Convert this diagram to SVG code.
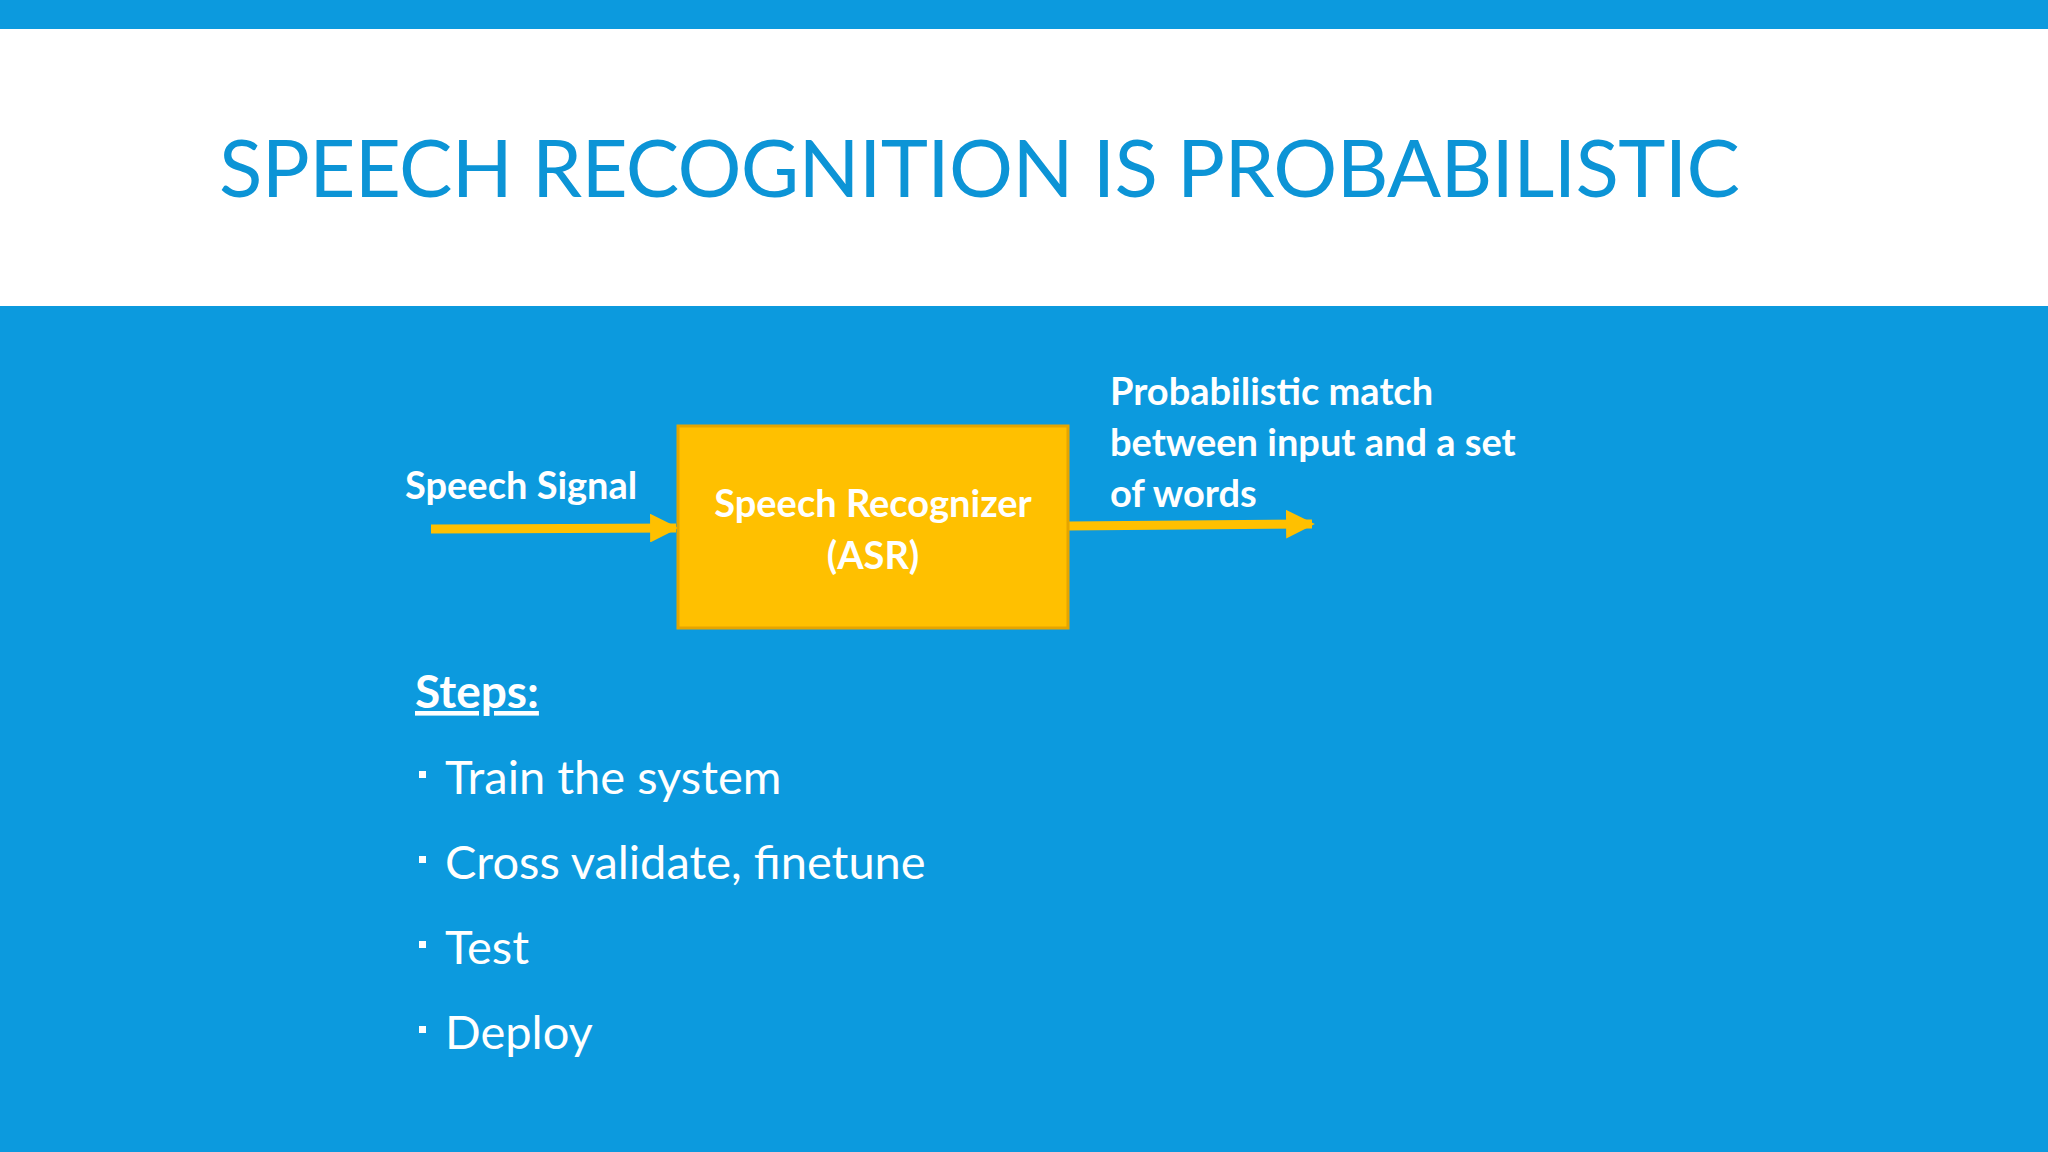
<svg xmlns="http://www.w3.org/2000/svg" width="2048" height="1152" viewBox="0 0 2048 1152">
<defs>
<style>
.w{fill:#fff;font-family:Lato,"Open Sans",sans-serif}
.b{font-weight:bold;font-size:38px}
.l{font-size:47px}
.c{stroke:#FFC000;stroke-width:9;fill:none}
</style>
<marker id="ah" viewBox="0 0 10 10" refX="9" refY="5" markerWidth="3.2" markerHeight="3.2" orient="auto" markerUnits="strokeWidth"><path d="M0,0L10,5L0,10z" fill="#FFC000"/></marker>
</defs>
<rect width="2048" height="1152" fill="#0C9ADE"/>
<rect x="0" y="29" width="2048" height="277" fill="#fff"/>
<text x="219" y="197" font-family="Lato,'Open Sans',sans-serif" font-size="80" fill="#0C94D6" textLength="1521">SPEECH RECOGNITION IS PROBABILISTIC</text>
<g id="connectors">
<line class="c" x1="431" y1="529" x2="676" y2="528" marker-end="url(#ah)"/>
<line class="c" x1="1068" y1="526" x2="1312" y2="524" marker-end="url(#ah)"/>
</g>
<g id="asr">
<rect x="678" y="426" width="390" height="202" fill="#FFC000" stroke="#E5A500" stroke-width="3"/>
<text class="w b" x="873" y="517" text-anchor="middle">Speech Recognizer</text>
<text class="w b" x="873" y="569" text-anchor="middle">(ASR)</text>
</g>
<g id="input"><text class="w b" x="405" y="499">Speech Signal</text></g>
<g id="output">
<text class="w b" x="1110" y="405">Probabilistic match</text>
<text class="w b" x="1110" y="456">between input and  a set</text>
<text class="w b" x="1110" y="507">of words</text>
</g>
<g id="steps">
<text class="w" x="415" y="708" font-size="46" font-weight="bold" text-decoration="underline">Steps:</text>
<rect x="419" y="771" width="7" height="7" fill="#fff"/>
<text class="w l" x="445" y="794">Train the system</text>
<rect x="419" y="856" width="7" height="7" fill="#fff"/>
<text class="w l" x="445" y="879">Cross validate, finetune</text>
<rect x="419" y="941" width="7" height="7" fill="#fff"/>
<text class="w l" x="445" y="964">Test</text>
<rect x="419" y="1026" width="7" height="7" fill="#fff"/>
<text class="w l" x="445" y="1049">Deploy</text>
</g>
</svg>
